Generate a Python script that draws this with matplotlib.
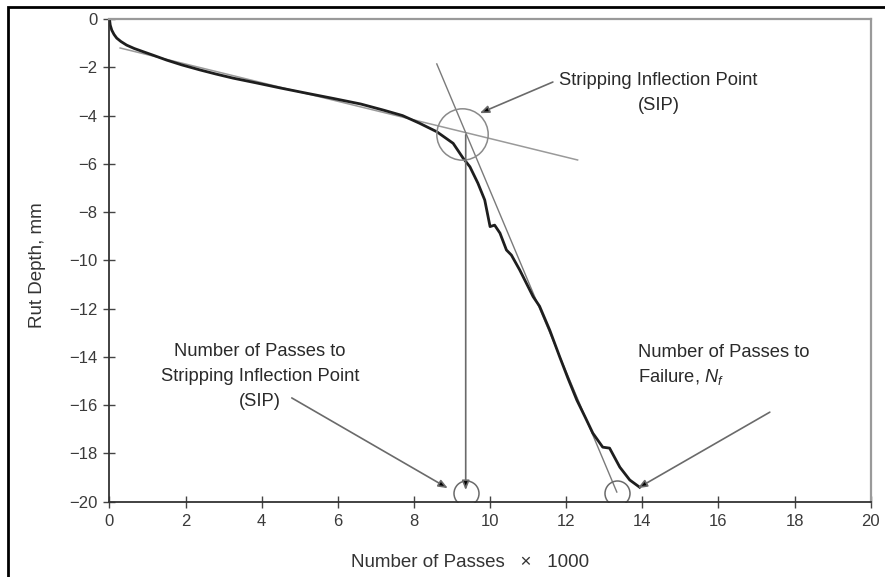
import matplotlib
matplotlib.use("Agg")
import matplotlib.pyplot as plt
from matplotlib.patches import Rectangle

plt.rcParams['font.family'] = ['Liberation Sans', 'DejaVu Sans']
plt.rcParams['mathtext.fontset'] = 'custom'
plt.rcParams['mathtext.rm'] = 'Liberation Sans'
plt.rcParams['mathtext.it'] = 'Liberation Sans:italic'

# Rut depth curve (passes x1000, rut depth mm)
passes = [0, 0.02, 0.06, 0.12, 0.19, 0.3, 0.45, 0.65, 0.88, 1.15, 1.5, 1.9, 2.38,
          2.8, 3.25, 3.87, 4.5, 5.2, 5.88, 6.6, 7.19, 7.7, 8.15, 8.6, 9.03, 9.29,
          9.47, 9.68, 9.86, 10.0, 10.12, 10.26, 10.43, 10.56, 10.78, 11.13, 11.3,
          11.57, 11.83, 12.05, 12.28, 12.5, 12.7, 12.96, 13.14, 13.41, 13.67, 13.93]
rut = [0, -0.25, -0.46, -0.64, -0.79, -0.93, -1.08, -1.22, -1.35, -1.5, -1.7,
       -1.9, -2.11, -2.28, -2.45, -2.65, -2.86, -3.08, -3.29, -3.52, -3.77, -4.0,
       -4.32, -4.67, -5.15, -5.76, -6.12, -6.8, -7.5, -8.6, -8.54, -8.87, -9.57,
       -9.78, -10.4, -11.5, -11.9, -12.9, -14.0, -14.9, -15.79, -16.5, -17.16,
       -17.74, -17.78, -18.57, -19.1, -19.4]

# Tangent lines
creep_x = [0.28, 12.3]
creep_y = [-1.2, -5.84]
strip_x = [8.6, 13.33]
strip_y = [-1.86, -19.6]

# Key points
sip_x, sip_y = 9.25, -4.75
sip_pass_x, nf_x, base_y = 9.36, 13.33, -19.64

xticks = [0, 2, 4, 6, 8, 10, 12, 14, 16, 18, 20]
yticks = [0, -2, -4, -6, -8, -10, -12, -14, -16, -18, -20]

fig = plt.figure(figsize=(8.85, 5.77), dpi=100)
ax = fig.add_axes([0.1237, 0.1305, 0.8601, 0.8365])

ax.plot(creep_x, creep_y, color='#9a9a9a', lw=1.1)
ax.plot(strip_x, strip_y, color='#7a7a7a', lw=1.0)
ax.plot(passes, rut, color='#1e1e1e', lw=2.0, solid_joinstyle='round')

ax.plot([sip_x], [sip_y], marker='o', ms=37, mfc='none', mec='#8a8a8a', mew=1.1)
ax.plot([sip_pass_x, nf_x], [base_y, base_y], ls='none', marker='o', ms=18,
        mfc='none', mec='#6a6a6a', mew=1.1)

arrow = dict(arrowstyle='-|>,head_length=0.55,head_width=0.22', ec='#6a6a6a',
             fc='black', lw=1.2, shrinkA=0, shrinkB=0)

# vertical arrow from SIP to the x-axis
ax.annotate('', xy=(sip_pass_x, -19.52), xytext=(sip_pass_x, -4.8), arrowprops=arrow)

txt = dict(fontsize=13.2, color='#2a2a2a')
ax.annotate('', xy=(9.73, -3.9), xytext=(11.65, -2.61), arrowprops=arrow)
ax.text(14.43, -3.05, 'Stripping Inflection Point\n(SIP)', ha='center', va='center',
        multialignment='center', linespacing=1.6, **txt)

ax.annotate('', xy=(8.89, -19.44), xytext=(4.79, -15.7), arrowprops=arrow)
ax.text(3.95, -14.8, 'Number of Passes to\nStripping Inflection Point\n(SIP)',
        ha='center', va='center', multialignment='center', linespacing=1.6, **txt)

ax.annotate('', xy=(13.88, -19.44), xytext=(17.35, -16.29), arrowprops=arrow)
ax.text(13.88, -14.36, 'Number of Passes to\nFailure, $N_f$', ha='left', va='center',
        multialignment='left', linespacing=1.45, **txt)

ax.set_xlim(0, 20)
ax.set_ylim(-20, 0)
ax.set_xticks(xticks)
ax.set_yticks(yticks)
ax.tick_params(direction='inout', length=9, width=1, colors='#444444',
               labelsize=12, labelcolor='#3a3a3a', pad=4)
for s in ['left', 'bottom']:
    ax.spines[s].set_color('#333333')
    ax.spines[s].set_linewidth(1.3)
for s in ['top', 'right']:
    ax.spines[s].set_color('#9a9a9a')
    ax.spines[s].set_linewidth(1.6)

ax.set_xlabel('Number of Passes   \u00d7   1000', fontsize=13.5, color='#333333')
ax.set_ylabel('Rut Depth, mm', fontsize=13.5, color='#333333')
ax.xaxis.set_label_coords(0.474, -0.108)
ax.yaxis.set_label_coords(-0.083, 0.49)

fig.add_artist(Rectangle((8 / 885, -0.05), 1.0, 1 - 7 / 577 + 0.05,
                         transform=fig.transFigure, fill=False, ec='black', lw=2))

fig.savefig('out.png', dpi=100)
